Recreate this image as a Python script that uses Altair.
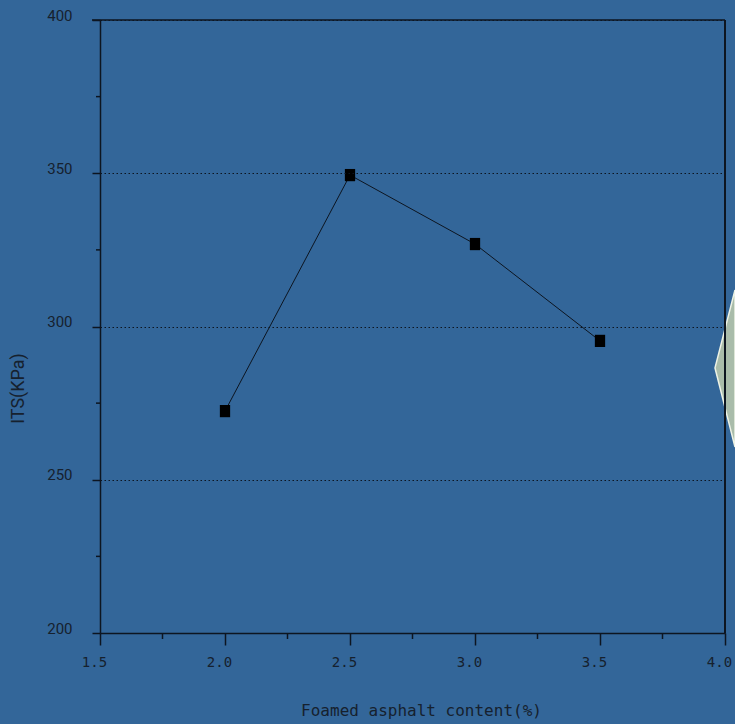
import altair as alt
import pandas as pd

# Indirect tensile strength versus foamed asphalt content
content = [2.0, 2.5, 3.0, 3.5]
its = [272.4, 349.4, 326.9, 295.3]

# Axis tick positions
x_major = [1.5, 2.0, 2.5, 3.0, 3.5, 4.0]
x_minor = [1.75, 2.25, 2.75, 3.25, 3.75]
y_major = [200, 250, 300, 350, 400]
y_minor = [225, 275, 325, 375]

# Pale wedge sitting on the right border
wedge_x = [3.96, 4.04]
wedge_top = [286.5, 311.9]
wedge_bottom = [286.5, 260.7]

BG = "#336699"
INK = "#0d1520"
TEXT = "#16212e"
W, H = 625, 613

df = pd.DataFrame({"x": content, "y": its})
wedge_df = pd.DataFrame({"x": wedge_x, "y": wedge_top, "y2": wedge_bottom})
xminor_df = pd.DataFrame({"x": x_minor})
yminor_df = pd.DataFrame({"y": y_minor})
one_df = pd.DataFrame({"k": [0]})

xscale = alt.Scale(domain=[1.5, 4.0], nice=False, zero=False)
yscale = alt.Scale(domain=[200, 400], nice=False, zero=False)

x_axis = alt.Axis(
    title="Foamed asphalt content(%)",
    values=x_major,
    format=".1f",
    grid=False,
    domainColor=INK,
    domainWidth=1.5,
    tickColor=INK,
    tickWidth=1.5,
    tickSize=12,
    labelPadding=10,
    labelOffset=-6,
    labelFlush=False,
    labelOverlap=False,
    labelFont="DejaVu Sans Mono",
    labelFontSize=14,
    labelColor=TEXT,
    titleFont="DejaVu Sans Mono",
    titleFontSize=16,
    titleFontWeight="normal",
    titleColor=TEXT,
    titleX=321,
    titleY=69,
    titleBaseline="top",
    titleAlign="center",
    zindex=1,
)

y_axis = alt.Axis(
    title="ITS(KPa)",
    values=y_major,
    grid=True,
    gridColor=INK,
    gridDash=[1.5, 2.5],
    gridWidth=1,
    domainColor=INK,
    domainWidth=1.5,
    tickColor=INK,
    tickWidth=1.5,
    tickSize=8,
    labelPadding=20,
    labelFlush=False,
    labelOverlap=False,
    labelFont="Roboto",
    labelFontSize=15,
    labelColor=TEXT,
    labelBaseline="alphabetic",
    titleFont="Roboto",
    titleFontSize=18,
    titleFontWeight="normal",
    titleColor=TEXT,
    titleX=-73,
    titleY=368,
    titleBaseline="bottom",
    titleAlign="center",
    zindex=1,
)

wedge = alt.Chart(wedge_df).mark_area(
    color="#a9bcaa", stroke="#eef3e6", strokeWidth=1.5, opacity=1
).encode(
    x=alt.X("x:Q", scale=xscale, axis=x_axis),
    y=alt.Y("y:Q", scale=yscale, axis=y_axis),
    y2="y2:Q",
)

line = alt.Chart(df).mark_line(color=INK, strokeWidth=1).encode(
    x=alt.X("x:Q", scale=xscale),
    y=alt.Y("y:Q", scale=yscale),
)

points = alt.Chart(df).mark_point(
    shape="M-0.84,-1H0.84V1H-0.84Z",
    filled=True,
    color="#000000",
    size=150,
    opacity=1,
).encode(
    x=alt.X("x:Q", scale=xscale),
    y=alt.Y("y:Q", scale=yscale),
)

x_minor_ticks = alt.Chart(xminor_df).mark_rule(color=INK, strokeWidth=1.5).encode(
    x=alt.X("x:Q", scale=xscale),
    y=alt.value(H),
    y2=alt.value(H + 6),
)

y_minor_ticks = alt.Chart(yminor_df).mark_rule(color=INK, strokeWidth=1.5).encode(
    y=alt.Y("y:Q", scale=yscale),
    x=alt.value(-4),
    x2=alt.value(0),
)

top_frame = alt.Chart(one_df).mark_rule(color=INK, strokeWidth=1.5).encode(
    x=alt.value(-8), x2=alt.value(W), y=alt.value(0)
)
right_frame = alt.Chart(one_df).mark_rule(color=INK, strokeWidth=2).encode(
    x=alt.value(W), y=alt.value(0), y2=alt.value(H)
)

chart = (
    alt.layer(wedge, line, points, x_minor_ticks, y_minor_ticks, top_frame, right_frame)
    .properties(
        width=W,
        height=H,
        autosize=alt.AutoSizeParams(type="none"),
        padding={"left": 100, "top": 20, "right": 10, "bottom": 91},
        background=BG,
    )
    .configure_view(stroke=None)
)

chart.save("out.html", embed_options={"renderer": "svg", "actions": False})
